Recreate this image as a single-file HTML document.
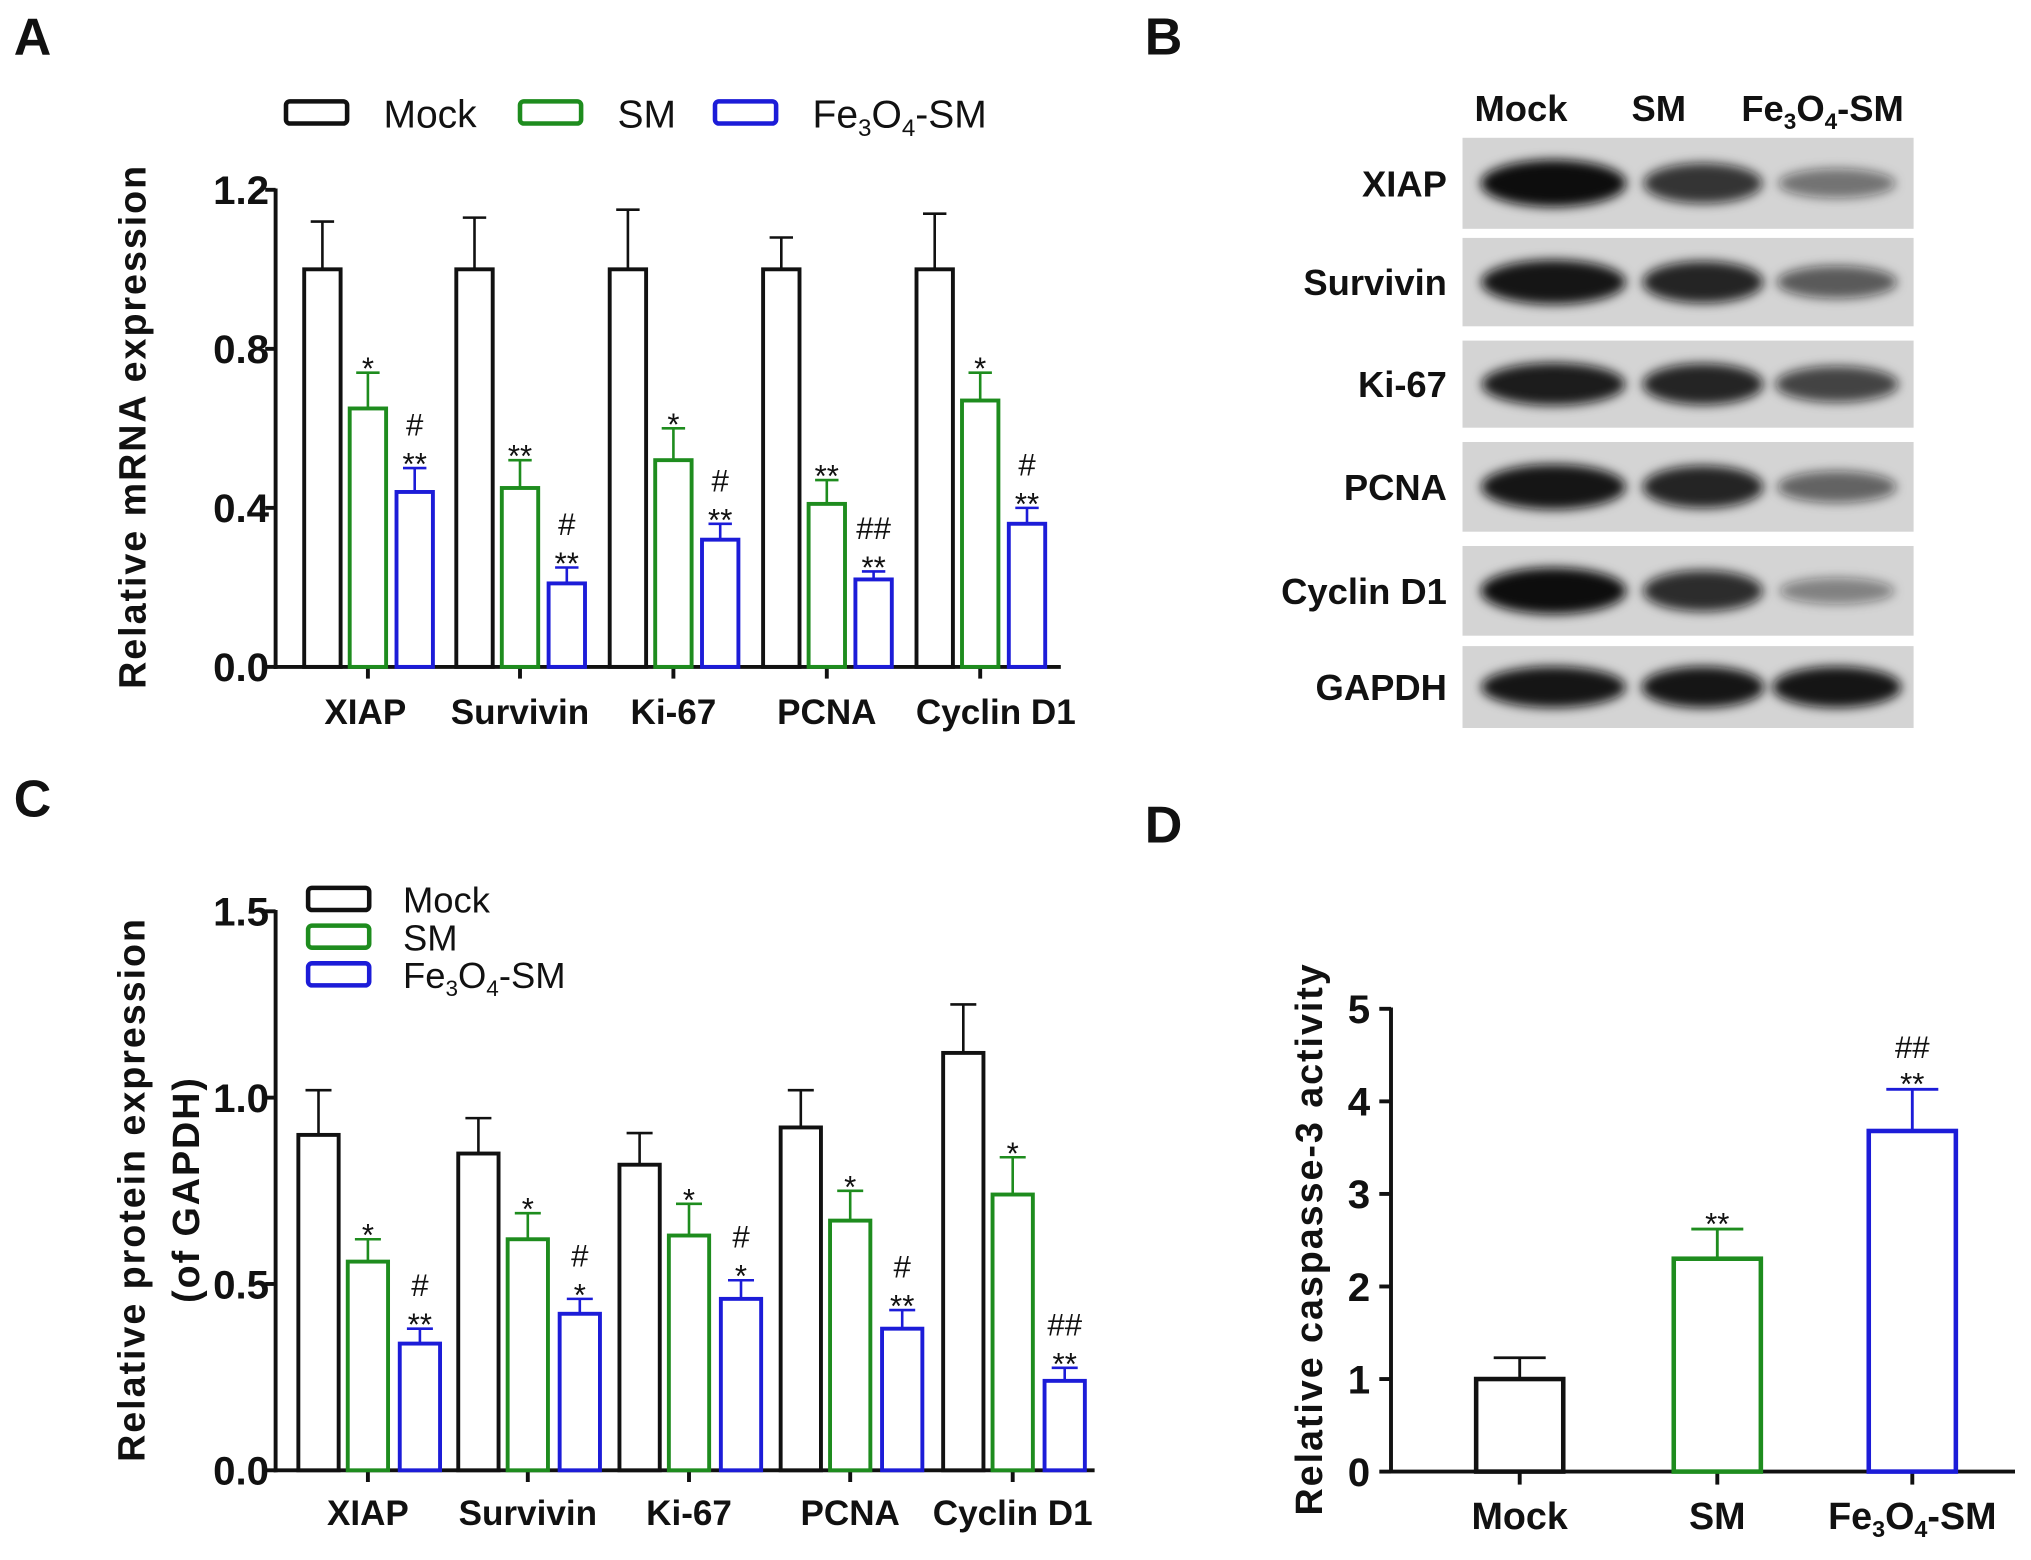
<!DOCTYPE html>
<html><head><meta charset="utf-8"><style>
html,body{margin:0;padding:0;background:#fff}
svg{display:block}
text{font-family:"Liberation Sans",Arial,sans-serif}
</style></head><body>
<svg id="fig" width="2031" height="1560" viewBox="0 0 1562.3 1200" xmlns="http://www.w3.org/2000/svg">
<defs><filter id="blur" x="-30%" y="-60%" width="160%" height="220%"><feGaussianBlur stdDeviation="4"/></filter></defs>
<rect width="1562.3" height="1200" fill="#fff"/>
<g id="root"></g>
</svg>
<script>
// ---- Panel A data ----
const catsA = ["XIAP","Survivin","Ki-67","PCNA","Cyclin D1"];
const mockA = [1.0,1.0,1.0,1.0,1.0];
const mockErrA = [1.12,1.13,1.15,1.08,1.14];
const smA = [0.65,0.45,0.52,0.41,0.67];
const smErrA = [0.74,0.52,0.60,0.47,0.74];
const feA = [0.44,0.21,0.32,0.22,0.36];
const feErrA = [0.50,0.25,0.36,0.24,0.40];
const smSigA = [["*"],["**"],["*"],["**"],["*"]];
const feSigA = [["#","**"],["#","**"],["#","**"],["##","**"],["#","**"]];
const ticksA = [0.0,0.4,0.8,1.2];
const tickLabelsA = ["0.0","0.4","0.8","1.2"];
// ---- Panel C data ----
const catsC = ["XIAP","Survivin","Ki-67","PCNA","Cyclin D1"];
const mockC = [0.90,0.85,0.82,0.92,1.12];
const mockErrC = [1.02,0.945,0.905,1.02,1.25];
const smC = [0.56,0.62,0.63,0.67,0.74];
const smErrC = [0.62,0.69,0.715,0.75,0.84];
const feC = [0.34,0.42,0.46,0.38,0.24];
const feErrC = [0.38,0.46,0.51,0.43,0.275];
const smSigC = [["*"],["*"],["*"],["*"],["*"]];
const feSigC = [["#","**"],["#","*"],["#","*"],["#","**"],["##","**"]];
const ticksC = [0.0,0.5,1.0,1.5];
const tickLabelsC = ["0.0","0.5","1.0","1.5"];
// ---- Panel D data ----
const catsD = ["Mock","SM","Fe3O4-SM"];
const valsD = [1.0,2.3,3.68];
const errD = [1.23,2.62,4.13];
const sigD = [[],["**"],["##","**"]];
const ticksD = [0,1,2,3,4,5];
const tickLabelsD = ["0","1","2","3","4","5"];
// ---- Panel B blot data (band intensity 0..1) ----
const blotRows = ["XIAP","Survivin","Ki-67","PCNA","Cyclin D1","GAPDH"];
const blotLanes = ["Mock","SM","Fe3O4-SM"];
const blotIntensity = [[1.0,0.75,0.35],[0.95,0.85,0.5],[0.9,0.85,0.65],[0.95,0.85,0.45],[1.0,0.8,0.25],[0.95,0.95,0.95]];

const NS="http://www.w3.org/2000/svg";
const root=document.getElementById('root');
function mk(tag,attrs,parent){const e=document.createElementNS(NS,tag);for(const k in attrs)e.setAttribute(k,attrs[k]);(parent||root).appendChild(e);return e;}
function txt(x,y,s,size,opts,parent){opts=opts||{};const t=mk('text',{x:x,y:y,'font-size':size,'text-anchor':opts.anchor||'middle',fill:opts.fill||'#111'},parent);if(opts.bold)t.setAttribute('font-weight','bold');if(opts.tr)t.setAttribute('transform',opts.tr);if(opts.ls)t.setAttribute('letter-spacing',opts.ls);t.textContent=s;return t;}
function feText(x,y,size,bold,anchor,parent){const t=mk('text',{x:x,y:y,'font-size':size,'text-anchor':anchor||'middle',fill:'#111'},parent);if(bold)t.setAttribute('font-weight','bold');
 const parts=[["Fe",0],["3",1],["O",0],["4",1],["-SM",0]];
 parts.forEach(p=>{const s=document.createElementNS(NS,'tspan');s.textContent=p[0];if(p[1]){s.setAttribute('font-size',size*0.62);s.setAttribute('dy',size*0.22);}else if(t.childNodes.length){s.setAttribute('dy',-size*0.22);}t.appendChild(s);});return t;}
const colors=["#111","#1e8c1e","#1c1cd8"];

function barChart(cfg){
 const g=mk('g',{});
 
 
 const y=v=>cfg.y0-(v-0)/(cfg.ymax)*(cfg.y0-cfg.ytop);
 const ya=mk('line',{x1:cfg.ax,y1:y(cfg.ymax)-1,x2:cfg.ax,y2:cfg.y0+1.5,stroke:'#111','stroke-width':3},g);
 
 const xa=mk('line',{x1:cfg.ax-1.5,y1:cfg.y0,x2:cfg.axEnd,y2:cfg.y0,stroke:'#111','stroke-width':3},g);
 
 cfg.ticks.forEach((t,i)=>{mk('line',{x1:cfg.ax-8,y1:y(t),x2:cfg.ax,y2:y(t),stroke:'#111','stroke-width':3},g);
  const l=txt(cfg.ax-5,y(t)+11,cfg.tickLabels[i],cfg.tickSize,{anchor:'end',bold:true},g);
  });
 cfg.centers.forEach((cx,i)=>{mk('line',{x1:cx,y1:cfg.y0,x2:cx,y2:cfg.y0+9,stroke:'#111','stroke-width':3},g);});
 cfg.series.forEach((s,si)=>{
  s.vals.forEach((v,i)=>{
   const cx=cfg.centers[i]+s.off, w=cfg.bw;
   const top=y(v), et=y(s.err[i]);
   mk('line',{x1:cx,y1:top,x2:cx,y2:et,stroke:s.color,'stroke-width':2},g);
   mk('line',{x1:cx-cfg.capw,y1:et,x2:cx+cfg.capw,y2:et,stroke:s.color,'stroke-width':2},g);
   const r=mk('rect',{x:cx-w/2,y:top,width:w,height:cfg.y0-top,fill:'#fff',stroke:s.color,'stroke-width':3},g);
   
   
   const sig=s.sig[i]||[];
   sig.forEach((m,k)=>{const yy=et-5-(sig.length-1-k)*20 + (m.indexOf('*')>=0?10:0);
     const st=txt(cx,yy,m,m.indexOf('#')>=0?24:24,{},g);});
  });
 });
 cfg.cats.forEach((c,i)=>{let t;
  t=txt(cfg.centers[i]+(cfg.catDx?cfg.catDx[i]:0),cfg.catY,c,cfg.catSize,{bold:true},g);
  });
 return {g,y};
}

[["A",25,42],["B",895,42],["C",25,628],["D",895,648]].forEach(p=>{const t=txt(p[1],p[2],p[0],40,{bold:true,anchor:'middle'});});

// ---- Panel A ----
const centersA=[283,400,518,636,754];
barChart({name:'panel-a-chart',ax:212,axEnd:816,y0:513,ytop:146,ymax:1.2,ticks:ticksA,tickLabels:tickLabelsA,tickSize:31,
 centers:centersA,bw:28,capw:9,cats:catsA,catY:557,catSize:27,catDx:[-2,0,0,0,12],
 series:[{key:'mock',vals:mockA,err:mockErrA,color:colors[0],off:-35,sig:[]},
         {key:'sm',vals:smA,err:smErrA,color:colors[1],off:0,sig:smSigA},
         {key:'fe',vals:feA,err:feErrA,color:colors[2],off:36,sig:feSigA}]});
txt(0,0,"Relative mRNA expression",29,{bold:true,ls:1.5,tr:'translate(112,328) rotate(-90)'});
[[220,"Mock",0],[400,"SM",1],[550,null,2]].forEach((l,i)=>{
 const r=mk('rect',{x:l[0],y:78,width:47,height:17,rx:3,fill:'#fff',stroke:colors[l[2]],'stroke-width':3.5});
 
 let t; if(l[1]) t=txt(l[0]+75,98,l[1],30,{anchor:'start'}); else t=feText(l[0]+75,98,30,false,'start');
 });

// ---- Panel C ----
const centersC=[283,406,530,654,779];
barChart({name:'panel-c-chart',ax:212,axEnd:842,y0:1131,ytop:701,ymax:1.5,ticks:ticksC,tickLabels:tickLabelsC,tickSize:31,
 centers:centersC,bw:31,capw:10,cats:catsC,catY:1173,catSize:27,
 series:[{key:'mock',vals:mockC,err:mockErrC,color:colors[0],off:-38,sig:[]},
         {key:'sm',vals:smC,err:smErrC,color:colors[1],off:0,sig:smSigC},
         {key:'fe',vals:feC,err:feErrC,color:colors[2],off:40,sig:feSigC}]});
txt(0,0,"Relative protein expression",29,{bold:true,ls:1.5,tr:'translate(111,915) rotate(-90)'});
txt(0,0,"(of GAPDH)",29,{bold:true,ls:1.5,tr:'translate(153,915) rotate(-90)'});
[["Mock",683,0],["SM",712,1],[null,741,2]].forEach(l=>{
 const r=mk('rect',{x:237,y:l[1],width:47,height:17,rx:3,fill:'#fff',stroke:colors[l[2]],'stroke-width':3.5});
 
 let t; if(l[0]) t=txt(310,l[1]+19,l[0],28,{anchor:'start'}); else t=feText(310,l[1]+19,28,false,'start');
 });

// ---- Panel D ----
const dg=mk('g',{});


(function(){
 const ax=1070,y0=1132,ytop=776,ymax=5,axEnd=1550;
 const y=v=>y0-v/ymax*(y0-ytop);
 const centers=[1169,1321,1471];
 mk('line',{x1:ax,y1:ytop-1,x2:ax,y2:y0+1.5,stroke:'#111','stroke-width':3},dg);
 mk('line',{x1:ax-1.5,y1:y0,x2:axEnd,y2:y0,stroke:'#111','stroke-width':3},dg);
 ticksD.forEach((t,i)=>{mk('line',{x1:ax-9,y1:y(t),x2:ax,y2:y(t),stroke:'#111','stroke-width':3},dg);
  const l=txt(ax-16,y(t)+11,tickLabelsD[i],31,{anchor:'end',bold:true},dg);});
 valsD.forEach((v,i)=>{const cx=centers[i],w=67,top=y(v),et=y(errD[i]);
  mk('line',{x1:cx,y1:y0,x2:cx,y2:y0+10,stroke:'#111','stroke-width':3},dg);
  mk('line',{x1:cx,y1:top,x2:cx,y2:et,stroke:colors[i],'stroke-width':2.2},dg);
  mk('line',{x1:cx-20,y1:et,x2:cx+20,y2:et,stroke:colors[i],'stroke-width':2.2},dg);
  const r=mk('rect',{x:cx-w/2,y:top,width:w,height:y0-top,fill:'#fff',stroke:colors[i],'stroke-width':3.5},dg);
  
  const sig=sigD[i];sig.forEach((m,k)=>{const yy=et-4-(sig.length-1-k)*20+(m.indexOf('*')>=0?8:0);txt(cx,yy,m,24,{},dg);});
  let t; if(catsD[i]==="Fe3O4-SM") t=feText(cx,1176,29,true,'middle',dg); else t=txt(cx,1176,catsD[i],29,{bold:true},dg);
  });
 txt(0,0,"Relative  caspasse-3  activity",29,{bold:true,ls:1.5,tr:'translate(1017,953) rotate(-90)'},dg);
})();

// ---- Panel B blot ----
const bg=mk('g',{});


(function(){
 const strips=[[106,176],[183,251],[262,329],[340,409],[420,489],[497,560]];
 const laneX=[1195,1310,1413], laneW=[112,95,100];
 txt(1170,93,"Mock",28,{bold:true},bg);
 txt(1276,93,"SM",28,{bold:true},bg);
 feText(1402,93,28,true,'middle',bg);
 blotRows.forEach((r,i)=>{const [a,b]=strips[i];
  const s=mk('rect',{x:1125,y:a,width:347,height:b-a,fill:'#d4d4d4'},bg);
  
  const cy=(a+b)/2;
  blotIntensity[i].forEach((v,j)=>{const h=(b-a)*(0.22+0.3*v);
   const e=mk('ellipse',{cx:laneX[j],cy:cy,rx:laneW[j]/2*(0.85+0.15*v),ry:h/2,fill:'#111','fill-opacity':(0.25+0.75*v).toFixed(2),filter:'url(#blur)'},bg);
   });
  const l=txt(1113,cy+10,r,28,{bold:true,anchor:'end'},bg);
 });
})();
</script>
</body></html>
